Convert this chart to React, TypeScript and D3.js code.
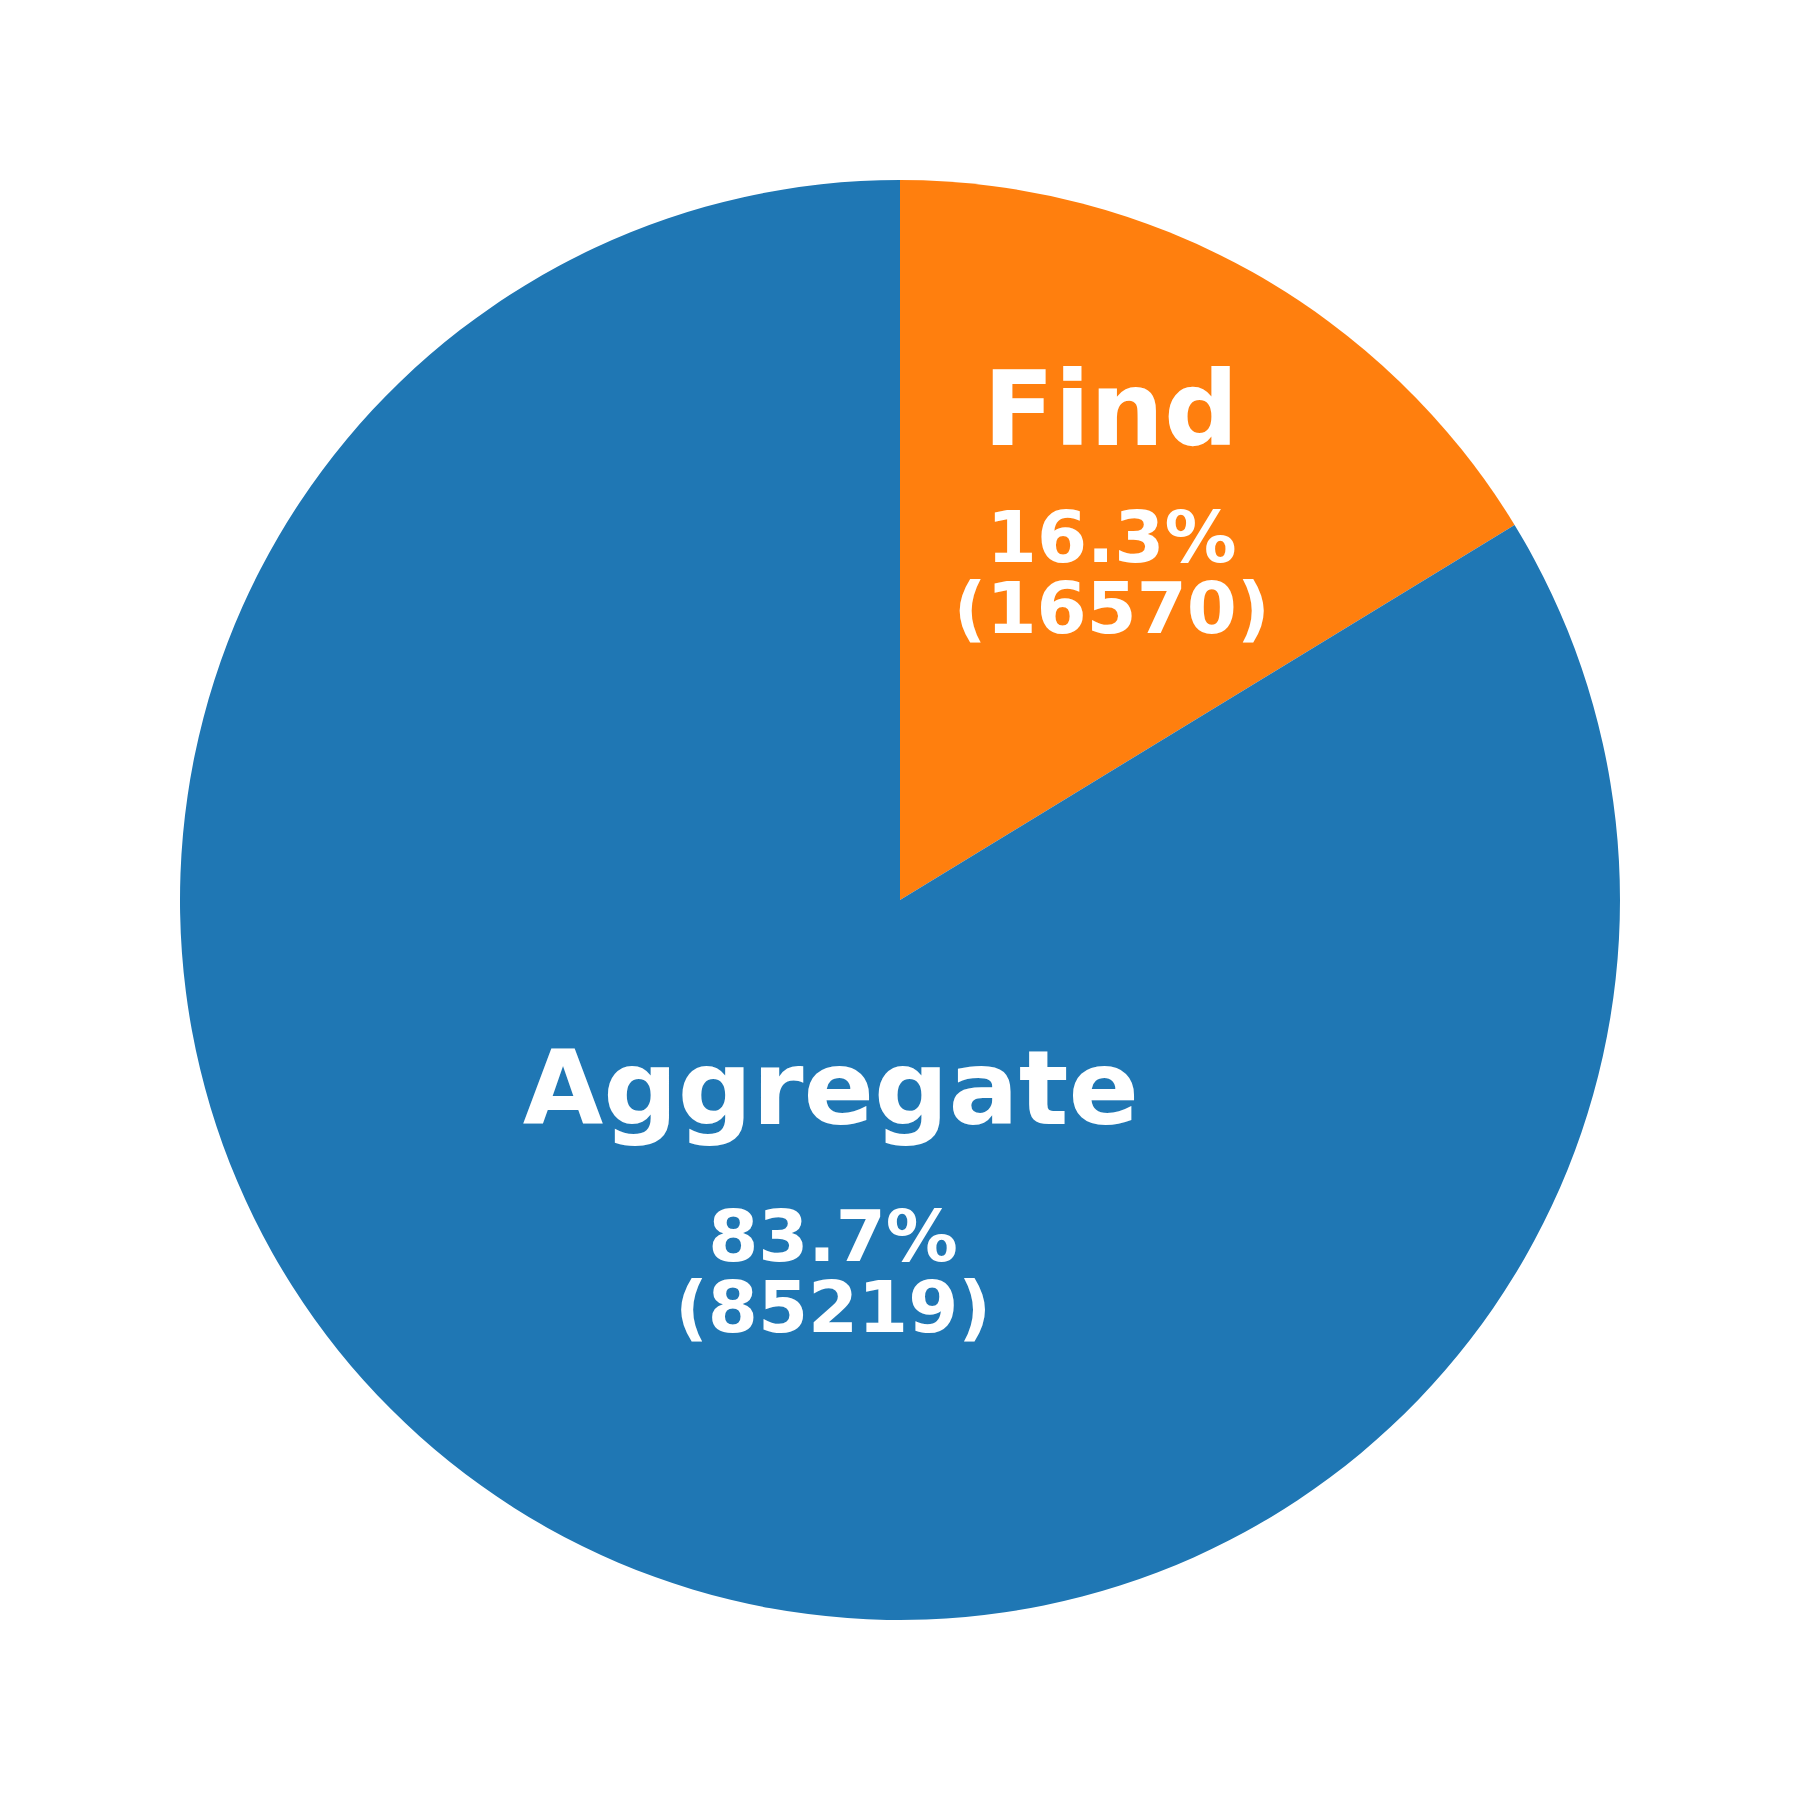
import React, { useRef, useEffect } from 'react';
import * as d3 from 'd3';

// slice data, clockwise from 12 o'clock
const categories = ['Find', 'Aggregate'];
const counts = [16570, 85219];
const colors = ['#ff7f0e', '#1f77b4'];

// where the texts sit, in units of the radius from the centre
const labelPos = [[0.293, -0.632], [-0.096, 0.3115]];
const pctPos = [[0.294, -0.47], [-0.093, 0.501]];

function App() {
  const svgRef = useRef<SVGSVGElement>(null);

  useEffect(() => {
    const svg = d3.select(svgRef.current);
    svg.selectAll('*').remove();

    const width = 1800;
    const height = 1800;
    const radius = 720;
    const total = d3.sum(counts);

    const data = categories.map((c, i) => ({ name: c, value: counts[i], color: colors[i], i }));

    const pie = d3.pie<any>().value(d => d.value).sort(null);
    const arcs = pie(data);

    const arc = d3.arc<any>().innerRadius(0).outerRadius(radius);

    const g = svg
      .attr('width', width)
      .attr('height', height)
      .append('g')
      .attr('transform', `translate(${width / 2}, ${height / 2})`);

    g.selectAll('path')
      .data(arcs)
      .enter()
      .append('path')
      .attr('d', arc)
      .attr('fill', d => d.data.color);

    const font = '"DejaVu Sans", sans-serif';

    g.selectAll('text.label')
      .data(arcs)
      .enter()
      .append('text')
      .attr('class', 'label')
      .attr('x', d => labelPos[d.data.i][0] * radius)
      .attr('y', d => labelPos[d.data.i][1] * radius)
      .attr('text-anchor', 'middle')
      .attr('fill', 'white')
      .style('font-family', font)
      .style('font-weight', 'bold')
      .style('font-size', '104px')
      .text(d => d.data.name);

    const pct = g.selectAll('text.pct')
      .data(arcs)
      .enter()
      .append('text')
      .attr('class', 'pct')
      .attr('text-anchor', 'middle')
      .attr('fill', 'white')
      .style('font-family', font)
      .style('font-weight', 'bold')
      .style('font-size', '72px');

    pct.append('tspan')
      .attr('x', d => pctPos[d.data.i][0] * radius)
      .attr('y', d => pctPos[d.data.i][1] * radius)
      .text(d => `${(d.data.value / total * 100).toFixed(1)}%`);

    pct.append('tspan')
      .attr('x', d => pctPos[d.data.i][0] * radius)
      .attr('y', d => pctPos[d.data.i][1] * radius + 71.6)
      .text(d => `(${d.data.value})`);
  }, []);

  return <svg ref={svgRef} style={{ position: 'absolute', left: 0, top: 0, background: 'white' }}></svg>;
}

export default App;
